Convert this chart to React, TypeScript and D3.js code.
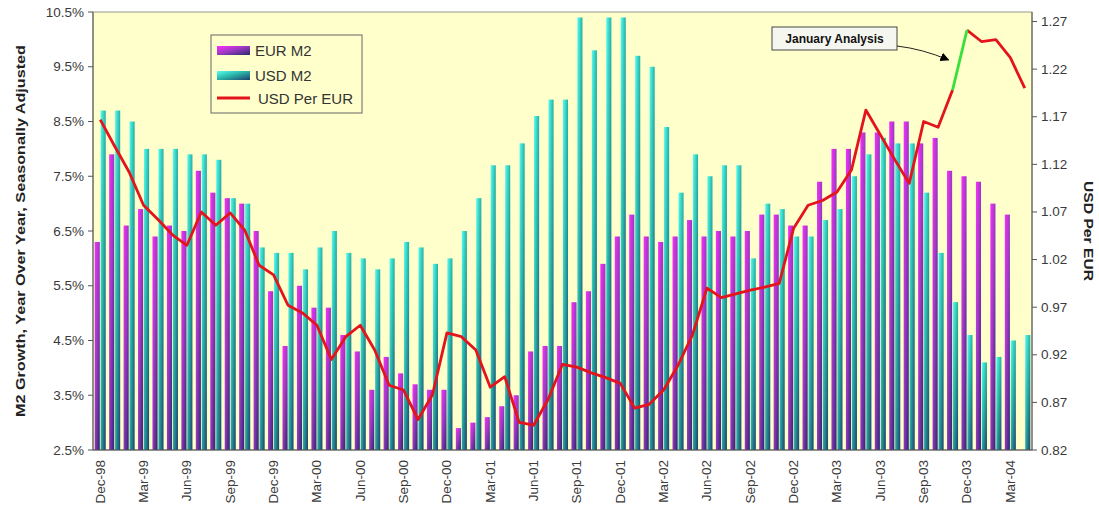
import React from 'react';
import * as d3 from 'd3';

const months = [
  'Dec-98',
  'Jan-99','Feb-99','Mar-99','Apr-99','May-99','Jun-99','Jul-99','Aug-99','Sep-99','Oct-99','Nov-99','Dec-99',
  'Jan-00','Feb-00','Mar-00','Apr-00','May-00','Jun-00','Jul-00','Aug-00','Sep-00','Oct-00','Nov-00','Dec-00',
  'Jan-01','Feb-01','Mar-01','Apr-01','May-01','Jun-01','Jul-01','Aug-01','Sep-01','Oct-01','Nov-01','Dec-01',
  'Jan-02','Feb-02','Mar-02','Apr-02','May-02','Jun-02','Jul-02','Aug-02','Sep-02','Oct-02','Nov-02','Dec-02',
  'Jan-03','Feb-03','Mar-03','Apr-03','May-03','Jun-03','Jul-03','Aug-03','Sep-03','Oct-03','Nov-03','Dec-03',
  'Jan-04','Feb-04','Mar-04','Apr-04',
];

const eurM2: (number | null)[] = [
  6.3, 7.9, 6.6, 6.9, 6.4, 6.6, 6.5, 7.6, 7.2, 7.1,
  7.0, 6.5, 5.4, 4.4, 5.5, 5.1, 5.1, 4.6, 4.3, 3.6,
  4.2, 3.9, 3.7, 3.6, 3.6, 2.9, 3.0, 3.1, 3.3, 3.5,
  4.3, 4.4, 4.4, 5.2, 5.4, 5.9, 6.4, 6.8, 6.4, 6.3,
  6.4, 6.7, 6.4, 6.5, 6.4, 6.5, 6.8, 6.8, 6.6, 6.6,
  7.4, 8.0, 8.0, 8.3, 8.3, 8.5, 8.5, 8.1, 8.2, 7.6,
  7.5, 7.4, 7.0, 6.8, null,
];

const usdM2: (number | null)[] = [
  8.7, 8.7, 8.5, 8.0, 8.0, 8.0, 7.9, 7.9, 7.8, 7.1,
  7.0, 6.2, 6.1, 6.1, 5.8, 6.2, 6.5, 6.1, 6.0, 5.8,
  6.0, 6.3, 6.2, 5.9, 6.0, 6.5, 7.1, 7.7, 7.7, 8.1,
  8.6, 8.9, 8.9, 10.4, 9.8, 10.4, 10.4, 9.7, 9.5, 8.4,
  7.2, 7.9, 7.5, 7.7, 7.7, 6.0, 7.0, 6.9, 6.4, 6.4,
  6.7, 6.9, 7.5, 7.9, 8.2, 8.1, 8.1, 7.2, 6.1, 5.2,
  4.6, 4.1, 4.2, 4.5, 4.6,
];

const usdPerEur = [
  1.167, 1.139, 1.112, 1.077, 1.062, 1.046, 1.035, 1.070, 1.056, 1.069,
  1.051, 1.014, 1.004, 0.972, 0.964, 0.951, 0.915, 0.939, 0.951, 0.925,
  0.888, 0.883, 0.852, 0.878, 0.943, 0.939, 0.925, 0.886, 0.897, 0.849,
  0.846, 0.873, 0.910, 0.907, 0.901, 0.896, 0.890, 0.864, 0.868, 0.883,
  0.909, 0.941, 0.990, 0.980, 0.984, 0.988, 0.991, 0.995, 1.053, 1.077,
  1.082, 1.091, 1.114, 1.177, 1.151, 1.125, 1.100, 1.165, 1.159, 1.198,
  1.261, 1.249, 1.251, 1.232, 1.200,
];

const highlightFrom = 'Nov-03';
const highlightTo = 'Dec-03';

const leftTicks = [2.5, 3.5, 4.5, 5.5, 6.5, 7.5, 8.5, 9.5, 10.5];
const rightTicks = [0.82, 0.87, 0.92, 0.97, 1.02, 1.07, 1.12, 1.17, 1.22, 1.27];
const xTickLabels = months.filter((_, i) => i % 3 === 0);

const seriesKeys = ['EUR M2', 'USD M2'];
const leftTitle = 'M2 Growth, Year Over Year, Seasonally Adjusted';
const rightTitle = 'USD Per EUR';
const annotation = 'January Analysis';

const FONT = 'Liberation Sans, Arial, Helvetica, sans-serif';

export default function App() {
  const W = 1099, H = 516;
  const left = 93, right = 1032, top = 12, bottom = 450;

  const x0 = d3.scaleBand<string>().domain(months).range([left, right]).paddingInner(0.12).paddingOuter(0.06);
  const x1 = d3.scaleBand<string>().domain(seriesKeys).range([0, x0.bandwidth()]).padding(0.14);
  const yL = d3.scaleLinear().domain([2.5, 10.5]).range([bottom, top]);
  const yR = d3.scaleLinear().domain([0.82, 1.28]).range([bottom, top]);
  const cx = (m: string) => (x0(m) as number) + x0.bandwidth() / 2;

  const mkLine = (offset: number) =>
    d3.line<number>().x((_, i) => cx(months[i + offset])).y((d) => yR(d));
  const hi0 = months.indexOf(highlightFrom);
  const hi1 = months.indexOf(highlightTo);
  const redA = mkLine(0)(usdPerEur.slice(0, hi0 + 1)) as string;
  const redB = mkLine(hi1)(usdPerEur.slice(hi1)) as string;
  const greenD = mkLine(hi0)(usdPerEur.slice(hi0, hi1 + 1)) as string;

  const fmtL = (v: number) => v.toFixed(1) + '%';
  const fmtR = (v: number) => v.toFixed(2);

  const bars: { key: string; vals: (number | null)[]; grad: string }[] = [
    { key: 'EUR M2', vals: eurM2, grad: 'url(#gEur)' },
    { key: 'USD M2', vals: usdM2, grad: 'url(#gUsd)' },
  ];

  const arrowStart: [number, number] = [897, 46];
  const arrowEnd: [number, number] = [cx(highlightFrom) - 4, 60];

  return (
    <svg width={W} height={H} style={{ position: 'absolute', left: 0, top: 0, background: '#fff' }} fontFamily={FONT}>
      <defs>
        <linearGradient id="gEur" x1="0" y1="0" x2="1" y2="1">
          <stop offset="0" stopColor="#ff2cff" />
          <stop offset="0.45" stopColor="#a13ac6" />
          <stop offset="1" stopColor="#29286c" />
        </linearGradient>
        <linearGradient id="gUsd" x1="0" y1="0" x2="1" y2="1">
          <stop offset="0" stopColor="#55fff2" />
          <stop offset="0.45" stopColor="#2bb8aa" />
          <stop offset="1" stopColor="#1d3e6c" />
        </linearGradient>
        <marker id="arrowHead" viewBox="0 0 10 10" refX="9" refY="5" markerWidth="9" markerHeight="9" orient="auto" markerUnits="userSpaceOnUse">
          <path d="M0,0 L10,5 L0,10 z" fill="#000" />
        </marker>
      </defs>

      <rect x={left} y={top} width={right - left} height={bottom - top} fill="#ffffcc" stroke="#9a9a8a" strokeWidth={1} />

      {bars.map((s) => (
        <g key={s.key}>
          {s.vals.map((v, i) =>
            v == null ? null : (
              <rect
                key={i}
                x={(x0(months[i]) as number) + (x1(s.key) as number)}
                y={yL(v)}
                width={x1.bandwidth()}
                height={bottom - yL(v)}
                fill={s.grad}
              />
            )
          )}
        </g>
      ))}

      <path d={redA} fill="none" stroke="#e3141b" strokeWidth={2.8} strokeLinejoin="round" />
      <path d={redB} fill="none" stroke="#e3141b" strokeWidth={2.8} strokeLinejoin="round" />
      <path d={greenD} fill="none" stroke="#3ae03a" strokeWidth={2.8} strokeLinejoin="round" />

      <line x1={left} x2={left} y1={top} y2={bottom} stroke="#555" />
      <line x1={right} x2={right} y1={top} y2={bottom} stroke="#555" />
      <line x1={left} x2={right} y1={bottom} y2={bottom} stroke="#555" />

      {leftTicks.map((t) => (
        <g key={'l' + t}>
          <line x1={left - 5} x2={left} y1={yL(t)} y2={yL(t)} stroke="#555" />
          <text x={left - 9} y={yL(t)} textAnchor="end" dominantBaseline="central" fontSize={13.5} fill="#3a3a3a">
            {fmtL(t)}
          </text>
        </g>
      ))}
      {rightTicks.map((t) => (
        <g key={'r' + t}>
          <line x1={right} x2={right + 5} y1={yR(t)} y2={yR(t)} stroke="#555" />
          <text x={right + 9} y={yR(t)} textAnchor="start" dominantBaseline="central" fontSize={13.5} fill="#3a3a3a">
            {fmtR(t)}
          </text>
        </g>
      ))}
      {xTickLabels.map((m) => (
        <text
          key={m}
          transform={`translate(${cx(m)},${bottom + 10}) rotate(-90)`}
          textAnchor="end"
          dominantBaseline="central"
          fontSize={13.5}
          fill="#3a3a3a"
        >
          {m}
        </text>
      ))}

      <text
        transform={`translate(20,${(top + bottom) / 2}) rotate(-90)`}
        textAnchor="middle"
        dominantBaseline="central"
        fontSize={13.5}
        fontWeight="bold"
        fill="#222"
        textLength={372}
        lengthAdjust="spacingAndGlyphs"
      >
        {leftTitle}
      </text>
      <text
        transform={`translate(1088,231) rotate(90)`}
        textAnchor="middle"
        dominantBaseline="central"
        fontSize={13.5}
        fontWeight="bold"
        fill="#222"
        textLength={100}
        lengthAdjust="spacingAndGlyphs"
      >
        {rightTitle}
      </text>

      <g>
        <rect x={211} y={35} width={151} height={78} fill="#ffffcc" stroke="#666" strokeWidth={1} />
        <rect x={217} y={46} width={33} height={9} fill="url(#gEur)" />
        <text x={255} y={50.5} dominantBaseline="central" fontSize={15} fill="#333">{seriesKeys[0]}</text>
        <rect x={217} y={71} width={33} height={9} fill="url(#gUsd)" />
        <text x={255} y={75.5} dominantBaseline="central" fontSize={15} fill="#333">{seriesKeys[1]}</text>
        <line x1={217} x2={250} y1={98} y2={98} stroke="#e3141b" strokeWidth={2.8} />
        <text x={258} y={98.5} dominantBaseline="central" fontSize={15} fill="#333">{rightTitle}</text>
      </g>

      <g>
        <rect x={772} y={27} width={125} height={23} fill="#f6f6f0" stroke="#444" strokeWidth={1} />
        <text x={834.5} y={38.5} textAnchor="middle" dominantBaseline="central" fontSize={12} fontWeight="bold" fill="#111">
          {annotation}
        </text>
        <path
          d={`M${arrowStart[0]},${arrowStart[1]} Q${(arrowStart[0] + arrowEnd[0]) / 2},${arrowStart[1] + 3} ${arrowEnd[0]},${arrowEnd[1]}`}
          fill="none"
          stroke="#222"
          strokeWidth={1}
          markerEnd="url(#arrowHead)"
        />
      </g>
    </svg>
  );
}
